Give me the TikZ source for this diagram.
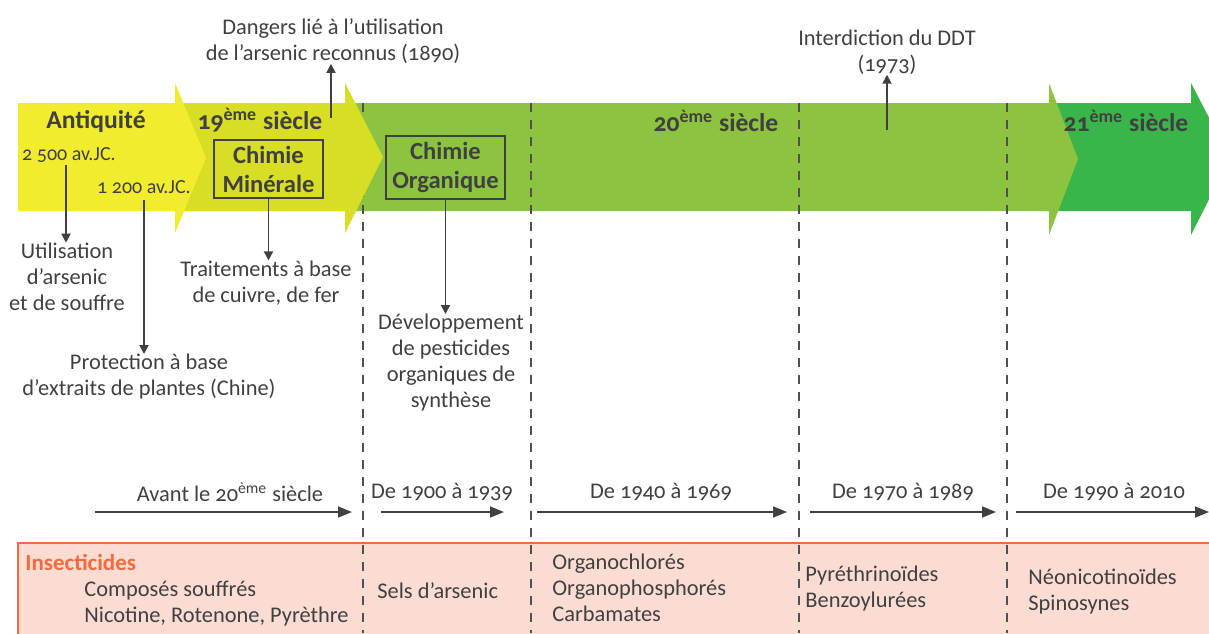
\documentclass[tikz,border=0pt]{standalone}
\usepackage{fontspec}
\setmainfont{Carlito}[Numbers=OldStyle]
\usetikzlibrary{arrows.meta,positioning}

\definecolor{jaune}{HTML}{F2EC2E}
\definecolor{jaunevert}{HTML}{D8DE25}
\definecolor{vert}{HTML}{8CC43F}
\definecolor{vertfonce}{HTML}{3AB54A}
\definecolor{gristexte}{HTML}{404040}
\definecolor{grissep}{HTML}{505050}
\definecolor{orange}{HTML}{F26A3D}
\definecolor{rosefond}{HTML}{FBDCD3}

\tikzset{
  txt/.style={text=gristexte, font=\fontsize{11.2}{13}\selectfont, align=center, inner sep=0pt},
  petit/.style={text=gristexte, font=\fontsize{10}{11}\selectfont, inner sep=0pt},
  titre/.style={text=gristexte, font=\fontsize{12.8}{14}\selectfont\bfseries, inner sep=0pt},
  chimie/.style={draw=gristexte, line width=0.8pt, text=gristexte, align=center,
    font=\fontsize{12.3}{14.5}\selectfont\bfseries, inner sep=0pt},
  fleche/.style={draw=gristexte, line width=0.9pt, -{Triangle[length=4.5pt,width=4.5pt]}},
  periode/.style={draw=gristexte, line width=0.8pt, -{Triangle[length=7pt,width=5.5pt]}},
  sep/.style={draw=grissep, line width=0.65pt, dash pattern=on 4.5pt off 4pt},
}

\begin{document}
\begin{tikzpicture}[x=0.5pt,y=-0.5pt]
  \useasboundingbox (0,0) rectangle (1209,633);
  \clip (0,0) rectangle (1209,633);

  % grandes fleches (de droite a gauche pour le recouvrement)
  \fill[vertfonce] (1040,103) -- (1191,103) -- (1191,83) -- (1230,158)
    -- (1191,235) -- (1191,211) -- (1040,211) -- cycle;
  \fill[vert] (340,103) -- (1049,103) -- (1049,83) -- (1078,159)
    -- (1049,235) -- (1049,211) -- (340,211) -- cycle;

  % cadre des insecticides
  \draw[draw=orange, fill=rosefond, line width=1pt] (18,543) rectangle (1230,650);

  % separations
  \foreach \x in {363,531,799,1007}
    \draw[sep] (\x,103) -- (\x,633);

  \fill[jaunevert] (170,103) -- (345,103) -- (345,83) -- (383,157)
    -- (345,233) -- (345,211) -- (170,211) -- cycle;
  \fill[jaune] (18,103) -- (175,103) -- (175,83) -- (206,158)
    -- (175,233) -- (175,211) -- (18,211) -- cycle;

  % titres
  \node[titre] (antiquite) at (96,122) {Antiquité};
  \node[titre] (s19) at (260,120) {19\textsuperscript{ème} siècle};
  \node[titre] (s20) at (716,121) {20\textsuperscript{ème} siècle};
  \node[titre] (s21) at (1126,121) {21\textsuperscript{ème} siècle};

  % dates et evenements
  \node[petit] (a2500) at (69,155) {2 500 av.JC.};
  \node[petit] (a1200) at (144,187) {1 200 av.JC.};
  \node[txt] (utilisation) at (67,277) {Utilisation\\d’arsenic\\et de souffre};
  \node[txt] (protection) at (149,377) {Protection à base\\d’extraits de plantes (Chine)};
  \coordinate (d2500) at (66,165);
  \draw[fleche] (d2500) -- (d2500 |- utilisation.north);
  \draw[fleche] (a1200.south) ++(0,-3pt) -- (protection.north -| a1200.south);

  \node[chimie, minimum width=54.5pt, minimum height=29pt] (minerale) at (268.5,169)
    {Chimie\\Minérale};
  \node[txt] (traitements) at (266,283) {Traitements à base\\de cuivre, de fer};
  \draw[fleche] (minerale.south) -- (minerale.south |- traitements.north);

  \node[txt] (dangers) at (333,41) {Dangers lié à l’utilisation\\de l’arsenic reconnus (1890)};
  \coordinate (dangersbas) at (331,118);
  \draw[fleche] (dangersbas) -- (dangersbas |- dangers.south);

  \node[chimie, minimum width=59.5pt, minimum height=31.5pt] (organique) at (445.5,167.5)
    {Chimie\\Organique};
  \node[txt] (developpement) at (451,363)
    {Développement\\de pesticides\\organiques de\\synthèse};
  \draw[fleche] (organique.south) -- (organique.south |- developpement.north);

  \node[txt] (ddt) at (887,52) {Interdiction du DDT\\(1973)};
  \coordinate (ddtbas) at (887,130);
  \draw[fleche] (ddtbas) -- (ddt.south);

  % periodes
  \node[txt] (avant) at (230,492) {Avant le 20\textsuperscript{ème} siècle};
  \node[txt] (p1900) at (442,492) {De 1900 à 1939};
  \node[txt] (p1940) at (661,492) {De 1940 à 1969};
  \node[txt] (p1970) at (903,492) {De 1970 à 1989};
  \node[txt] (p1990) at (1114,492) {De 1990 à 2010};
  \coordinate (d1) at (95,512);   \coordinate (f1) at (352,512);
  \coordinate (d2) at (381,512);  \coordinate (f2) at (504,512);
  \coordinate (d3) at (537,512);  \coordinate (f3) at (787,512);
  \coordinate (d4) at (810,512);  \coordinate (f4) at (996,512);
  \coordinate (d5) at (1016,512); \coordinate (f5) at (1209,512);
  \foreach \i in {1,...,5}
    \draw[periode] (d\i) -- (f\i);

  % insecticides
  \node[text=orange, font=\fontsize{11.5}{13}\selectfont\bfseries, inner sep=0pt, anchor=west]
    (insecticides) at (25,562) {Insecticides};
  \node[txt, align=left, anchor=west] (avantins) at (84,604)
    {Composés souffrés\\Nicotine, Rotenone, Pyrèthre};
  \node[txt, anchor=west] (arsenic) at (377,591) {Sels d’arsenic};
  \node[txt, align=left, anchor=west] (organo) at (552,588)
    {Organochlorés\\Organophosphorés\\Carbamates};
  \node[txt, align=left, anchor=west] (pyrethr) at (805,589)
    {Pyréthrinoïdes\\Benzoylurées};
  \node[txt, align=left, anchor=west] (neonic) at (1028,592)
    {Néonicotinoïdes\\Spinosynes};
\end{tikzpicture}
\end{document}
